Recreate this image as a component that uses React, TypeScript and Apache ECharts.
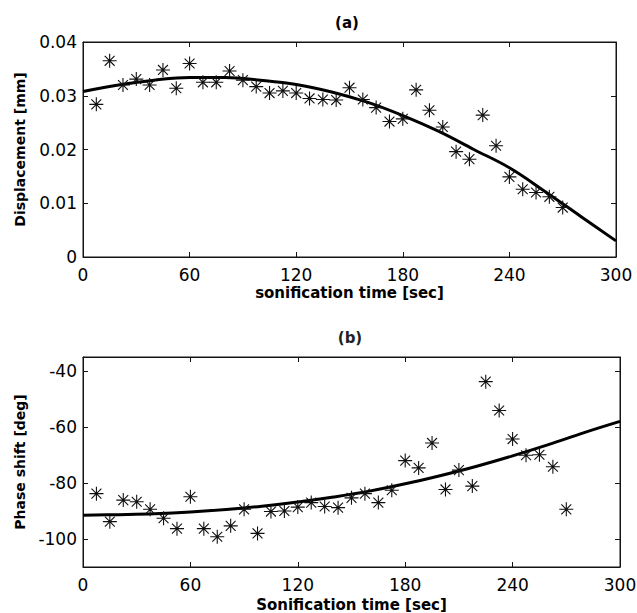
import React, { useEffect, useRef } from "react";
import * as echarts from "echarts";

// Measurement times (sec)
const timeSec = [
  7.5, 15, 22.5, 30, 37.5, 45, 52.5, 60, 67.5, 75, 82.5, 90, 97.5, 105, 112.5, 120, 127.5, 135,
  142.5, 150, 157.5, 165, 172.5, 180, 187.5, 195, 202.5, 210, 217.5, 225, 232.5, 240, 247.5, 255,
  262.5, 270,
];

// (a) measured displacement [mm]
const displacement = [
  0.0284, 0.0365, 0.032, 0.0331, 0.032, 0.0348, 0.0314, 0.036, 0.0325, 0.0325, 0.0346, 0.0329,
  0.0317, 0.0305, 0.0309, 0.0305, 0.0295, 0.0293, 0.0292, 0.0315, 0.0293, 0.0278, 0.0252, 0.0257,
  0.0311, 0.0273, 0.0242, 0.0196, 0.0182, 0.0264, 0.0207, 0.0149, 0.0126, 0.012, 0.0112, 0.0092,
];

// (b) measured phase shift [deg]
const phaseShift = [
  -83.8, -93.8, -86.1, -86.7, -89.4, -92.6, -96.3, -84.9, -96.3, -99.2, -95.3, -89.4, -98.0, -90.2,
  -90.0, -88.6, -87.0, -88.4, -88.8, -85.3, -83.8, -87.0, -82.6, -72.0, -74.6, -65.7, -82.3, -75.4,
  -81.1, -43.8, -54.1, -64.3, -70.1, -69.9, -74.2, -89.4,
];

// Fitted curves
const fitTime = [0, 20, 40, 60, 80, 100, 120, 140, 160, 180, 200, 220, 240, 260, 280, 300];
const fitDisplacement = [
  0.0308, 0.032, 0.0329, 0.0334, 0.0334, 0.0329, 0.0321, 0.0307, 0.0288, 0.0263, 0.0234, 0.02,
  0.0166, 0.0122, 0.0076, 0.003,
];
const fitPhase = [
  -91.5, -91.3, -91.0, -90.4, -89.5, -88.3, -86.8, -85.0, -82.9, -80.3, -77.3, -74.0, -70.3, -66.3,
  -62.0, -58.0,
];

const xTicks = [0, 60, 120, 180, 240, 300];
const dispTicks = [0, 0.01, 0.02, 0.03, 0.04];
const phaseTicks = [-100, -80, -60, -40];

const FONT = "DejaVu Sans";
const INK = "#141414";
const STAR =
  "path://M0,6L12,6M6,0L6,12M1.76,1.76L10.24,10.24M10.24,1.76L1.76,10.24";

export default function App() {
  const ref = useRef<HTMLDivElement>(null);
  useEffect(() => {
    const chart = echarts.init(ref.current!, null, { renderer: "svg" });
    const mkLine = () => ({ show: true, onZero: false, lineStyle: { color: INK, width: 1 } });
    const mkTick = (vals: number[]) => ({
      show: true,
      inside: true,
      length: 5,
      customValues: vals,
      lineStyle: { color: INK, width: 1 },
    });
    const label = { color: "#000", fontFamily: FONT, fontSize: 17 };
    const nameStyleX = { color: "#000", fontFamily: FONT, fontSize: 15, fontWeight: "bold" as const };
    const nameStyleY = { color: "#000", fontFamily: FONT, fontSize: 14, fontWeight: "bold" as const };
    const titleStyle = {
      fontFamily: FONT,
      fontSize: 15,
      fontWeight: "bold",
      textAlign: "center",
      textVerticalAlign: "middle",
    };
    const gridA = { left: 83, right: 21, top: 42, height: 215, outerBoundsMode: "none" };
    const gridB = { left: 83, right: 17, top: 357, height: 210, outerBoundsMode: "none" };
    const border = { show: true, borderColor: INK, borderWidth: 1, backgroundColor: "transparent" };

    const frameX = (g: number) => ({
      type: "value",
      gridIndex: g,
      position: "top",
      min: 0,
      max: 300,
      interval: 60,
      axisLine: mkLine(),
      axisTick: mkTick(xTicks),
      axisLabel: { show: false },
      splitLine: { show: false },
    });
    const frameY = (g: number, min: number, max: number, ticks: number[]) => ({
      type: "value",
      gridIndex: g,
      position: "right",
      min,
      max,
      axisLine: mkLine(),
      axisTick: mkTick(ticks),
      axisLabel: { show: false },
      splitLine: { show: false },
    });

    const option: any = {
      animation: false,
      backgroundColor: "#fff",
      grid: [{ ...gridA, ...border }, { ...gridB, ...border }, { ...gridA }, { ...gridB }],
      title: [
        { text: "(a)", left: 347, top: 23, textAlign: "center", textVerticalAlign: "middle", padding: 0, textStyle: { ...titleStyle, color: "#000" } },
        { text: "(b)", left: 350, top: 338, textAlign: "center", textVerticalAlign: "middle", padding: 0, textStyle: { ...titleStyle, color: "#222" } },
      ],
      xAxis: [
        {
          type: "value",
          gridIndex: 0,
          min: 0,
          max: 300,
          interval: 60,
          axisLine: mkLine(),
          axisTick: mkTick(xTicks),
          axisLabel: { ...label, margin: 9, customValues: xTicks },
          splitLine: { show: false },
          name: "sonification time [sec]",
          nameLocation: "middle",
          nameGap: 28,
          nameTextStyle: nameStyleX,
        },
        {
          type: "value",
          gridIndex: 1,
          min: 0,
          max: 300,
          interval: 60,
          axisLine: mkLine(),
          axisTick: mkTick(xTicks),
          axisLabel: { ...label, margin: 9, customValues: xTicks },
          splitLine: { show: false },
          name: "Sonification time [sec]",
          nameLocation: "middle",
          nameGap: 30,
          nameTextStyle: nameStyleX,
        },
        frameX(2),
        frameX(3),
      ],
      yAxis: [
        {
          type: "value",
          gridIndex: 0,
          min: 0,
          max: 0.04,
          interval: 0.01,
          axisLine: mkLine(),
          axisTick: mkTick(dispTicks),
          axisLabel: {
            ...label,
            margin: 6,
            customValues: dispTicks,
            formatter: (v: number) => (v === 0 ? "0" : v.toFixed(2)),
          },
          splitLine: { show: false },
          name: "Displacement [mm]",
          nameLocation: "middle",
          nameGap: 56,
          nameTextStyle: nameStyleY,
        },
        {
          type: "value",
          gridIndex: 1,
          min: -110,
          max: -35,
          axisLine: mkLine(),
          axisTick: mkTick(phaseTicks),
          axisLabel: { ...label, margin: 6, customValues: phaseTicks },
          splitLine: { show: false },
          name: "Phase shift [deg]",
          nameLocation: "middle",
          nameGap: 56,
          nameTextStyle: nameStyleY,
        },
        frameY(2, 0, 0.04, dispTicks),
        frameY(3, -110, -35, phaseTicks),
      ],
      series: [
        {
          type: "line",
          xAxisIndex: 0,
          yAxisIndex: 0,
          data: fitTime.map((t, i) => [t, fitDisplacement[i]]),
          showSymbol: false,
          smooth: 0.4,
          lineStyle: { color: "#000", width: 3 },
          z: 2,
        },
        {
          type: "scatter",
          xAxisIndex: 0,
          yAxisIndex: 0,
          data: timeSec.map((t, i) => [t, displacement[i]]),
          symbol: STAR,
          symbolSize: 14,
          symbolKeepAspect: true,
          itemStyle: { color: "transparent", borderColor: "#111", borderWidth: 1.1, opacity: 1 },
          z: 3,
        },
        {
          type: "line",
          xAxisIndex: 1,
          yAxisIndex: 1,
          data: fitTime.map((t, i) => [t, fitPhase[i]]),
          showSymbol: false,
          smooth: 0.4,
          lineStyle: { color: "#000", width: 3 },
          z: 2,
        },
        {
          type: "scatter",
          xAxisIndex: 1,
          yAxisIndex: 1,
          data: timeSec.map((t, i) => [t, phaseShift[i]]),
          symbol: STAR,
          symbolSize: 14,
          symbolKeepAspect: true,
          itemStyle: { color: "transparent", borderColor: "#111", borderWidth: 1.1, opacity: 1 },
          z: 3,
        },
      ],
    };
    chart.setOption(option);
    return () => chart.dispose();
  }, []);
  return (
    <div
      ref={ref}
      style={{ position: "fixed", left: 0, top: 0, width: 637, height: 613 }}
    />
  );
}
